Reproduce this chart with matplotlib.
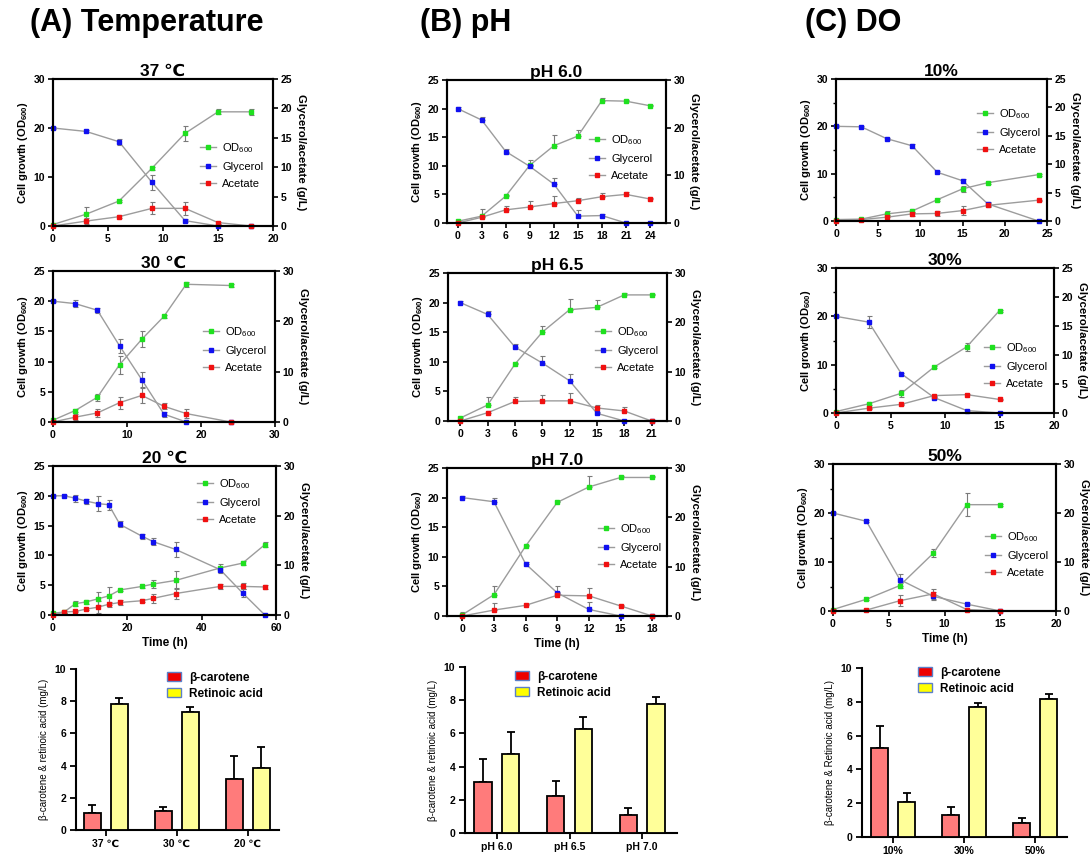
import numpy as np
import matplotlib
matplotlib.use("Agg")
import matplotlib.pyplot as plt
from matplotlib.lines import Line2D
from matplotlib.patches import Patch

plt.rcParams['font.family'] = ['Liberation Sans', 'DejaVu Sans']
plt.rcParams['font.weight'] = 'bold'
plt.rcParams['axes.labelweight'] = 'bold'
plt.rcParams['mathtext.default'] = 'regular'

# ---------------- data: (A) temperature ----------------
t_37 = [0, 3, 6, 9, 12, 15, 18]
od_37 = [0.3, 2.4, 5.1, 11.8, 18.9, 23.3, 23.3]
od_37_err = [0.3, 1.4, 0.3, 0.3, 1.6, 0.5, 0.6]
gly_37 = [20.0, 19.3, 17.2, 8.9, 1.1, 0, 0]
gly_37_err = [0.2, 0.2, 0.6, 1.5, 0.3, 0, 0]
ace_37 = [0, 1.0, 1.9, 3.6, 3.6, 0.7, 0]
ace_37_err = [0, 0.6, 0.3, 1.2, 1.3, 0.2, 0]

t_30 = [0, 3, 6, 9, 12, 15, 18, 24]
od_30 = [0.3, 1.9, 4.1, 9.5, 13.7, 17.5, 22.8, 22.6]
od_30_err = [0.1, 0.3, 0.6, 1.5, 1.3, 0.2, 0.4, 0.2]
gly_30 = [20.0, 19.6, 18.5, 12.6, 7.0, 1.3, 0, 0]
gly_30_err = [0.2, 0.6, 0.4, 1.2, 1.2, 0.4, 0, 0]
ace_30 = [0, 0.8, 1.5, 3.2, 4.4, 2.6, 1.4, 0]
ace_30_err = [0, 0.5, 0.7, 1.0, 1.3, 0.5, 0.7, 0]

t_20 = [0, 3, 6, 9, 12, 15, 18, 24, 27, 33, 45, 51, 57]
od_20 = [0.3, 0.5, 1.9, 2.2, 2.7, 3.2, 4.2, 4.8, 5.2, 5.8, 7.9, 8.7, 11.8]
od_20_err = [0.1, 0.1, 0.4, 0.3, 1.1, 1.5, 0.2, 0.2, 0.7, 1.5, 0.7, 0.3, 0.4]
gly_20 = [20.0, 20.0, 19.6, 19.1, 18.7, 18.5, 15.2, 13.2, 12.3, 11.0, 7.6, 3.7, 0]
gly_20_err = [0.1, 0.1, 0.6, 0.4, 1.3, 0.8, 0.5, 0.4, 0.6, 1.2, 0.5, 0.6, 0]
ace_20 = [0, 0.5, 0.6, 1.0, 1.3, 1.8, 2.1, 2.4, 2.8, 3.6, 4.8, 4.8, 4.7]
ace_20_err = [0, 0.1, 0.1, 0.2, 1.0, 0.4, 0.4, 0.3, 0.8, 0.9, 0.4, 0.5, 0.3]

# ---------------- data: (B) pH ----------------
t_ph60 = [0, 3, 6, 9, 12, 15, 18, 21, 24]
od_ph60 = [0.3, 1.2, 4.7, 10.1, 13.5, 15.2, 21.4, 21.3, 20.5]
od_ph60_err = [0.3, 1.3, 0.2, 1.0, 1.8, 1.1, 0.4, 0.2, 0.2]
gly_ph60 = [20.0, 18.0, 12.5, 9.9, 6.8, 1.2, 1.3, 0, 0]
gly_ph60_err = [0.2, 0.6, 0.4, 0.3, 1.1, 1.0, 0.2, 0, 0]
ace_ph60 = [0, 1.0, 2.3, 2.8, 3.4, 3.9, 4.6, 5.0, 4.2]
ace_ph60_err = [0, 0.3, 0.7, 1.0, 1.4, 0.5, 0.6, 0.5, 0.2]

t_ph65 = [0, 3, 6, 9, 12, 15, 18, 21]
od_ph65 = [0.5, 2.7, 9.6, 15.0, 18.8, 19.2, 21.3, 21.3]
od_ph65_err = [0.2, 1.3, 0.2, 1.1, 1.8, 1.2, 0.4, 0.2]
gly_ph65 = [20.0, 18.0, 12.5, 9.8, 6.8, 1.3, 0, 0]
gly_ph65_err = [0.2, 0.5, 0.5, 1.2, 1.2, 0.3, 0, 0]
ace_ph65 = [0, 1.4, 3.3, 3.4, 3.4, 2.2, 1.7, 0]
ace_ph65_err = [0, 0.3, 0.8, 1.0, 1.4, 0.5, 0.6, 0]

t_ph70 = [0, 3, 6, 9, 12, 15, 18]
od_ph70 = [0.2, 3.6, 11.8, 19.2, 21.8, 23.4, 23.4]
od_ph70_err = [0.5, 1.4, 0.2, 0.2, 1.8, 0.2, 0.3]
gly_ph70 = [20.0, 19.3, 8.8, 3.9, 1.1, 0, 0]
gly_ph70_err = [0.2, 0.7, 0.3, 1.1, 1.2, 0, 0]
ace_ph70 = [0, 1.0, 1.8, 3.5, 3.4, 1.7, 0]
ace_ph70_err = [0, 1.2, 0.2, 0.5, 1.3, 0.2, 0]

# ---------------- data: (C) DO ----------------
t_do10 = [0, 3, 6, 9, 12, 15, 18, 24]
od_do10 = [0.3, 0.4, 1.5, 2.1, 4.5, 6.8, 8.1, 9.8]
od_do10_err = [0.1, 0.1, 0.6, 0.5, 0.2, 0.6, 0.2, 0.2]
gly_do10 = [20.0, 19.9, 17.4, 15.9, 10.3, 8.5, 3.6, 0]
gly_do10_err = [0.2, 0.2, 0.2, 0.4, 0.2, 0.4, 0.5, 0]
ace_do10 = [0, 0.3, 0.8, 1.5, 1.6, 2.2, 3.3, 4.4]
ace_do10_err = [0, 0.1, 0.5, 0.5, 0.5, 1.0, 0.4, 0.1]

t_do30 = [0, 3, 6, 9, 12, 15]
od_do30 = [0.3, 1.9, 4.1, 9.5, 13.7, 21.2]
od_do30_err = [0.1, 0.3, 0.7, 0.2, 0.8, 0.2]
gly_do30 = [20.0, 18.8, 8.1, 3.2, 0.5, 0]
gly_do30_err = [0.2, 1.2, 0.2, 0.3, 0.1, 0]
ace_do30 = [0, 1.0, 1.8, 3.6, 3.8, 2.8]
ace_do30_err = [0, 0.1, 0.1, 0.2, 0.1, 0.1]

t_do50 = [0, 3, 6, 9, 12, 15]
od_do50 = [0.3, 2.4, 5.2, 11.8, 21.7, 21.7]
od_do50_err = [0.1, 0.2, 0.5, 0.8, 2.3, 0.2]
gly_do50 = [20.0, 18.3, 6.4, 3.0, 1.4, 0]
gly_do50_err = [0.2, 0.2, 1.2, 0.8, 0.2, 0]
ace_do50 = [0, 0.2, 2.1, 3.5, 0.3, 0]
ace_do50_err = [0, 0.1, 1.1, 1.0, 0.1, 0]

# ---------------- data: bar charts ----------------
temp_cats = ['37 \u2103', '30 \u2103', '20 \u2103']
temp_bc = [1.05, 1.2, 3.15]
temp_bc_err = [0.5, 0.25, 1.45]
temp_ra = [7.8, 7.3, 3.85]
temp_ra_err = [0.38, 0.32, 1.3]

ph_cats = ['pH 6.0', 'pH 6.5', 'pH 7.0']
ph_bc = [3.05, 2.2, 1.08]
ph_bc_err = [1.42, 0.95, 0.42]
ph_ra = [4.78, 6.28, 7.8]
ph_ra_err = [1.33, 0.72, 0.38]

do_cats = ['10%', '30%', '50%']
do_bc = [5.25, 1.3, 0.83]
do_bc_err = [1.3, 0.5, 0.27]
do_ra = [2.05, 7.67, 8.15]
do_ra_err = [0.55, 0.23, 0.32]

# ---------------- layout helpers ----------------
W, H = 1090, 857
fig = plt.figure(figsize=(W / 100, H / 100), dpi=100)


def rect(x0, y0, x1, y1):
    return [x0 / W, 1 - y1 / H, (x1 - x0) / W, (y1 - y0) / H]


LINE_C = '#9c9c9c'
ERR_C = '#7a7a7a'
COLS = {'od': '#1fe01f', 'gly': '#1010f0', 'ace': '#f01010'}


def style_axis(ax):
    for s in ax.spines.values():
        s.set_linewidth(1.5)
    ax.tick_params(direction='out', length=3.5, width=1.2, labelsize=7.5, pad=2)


def line_panel(r, title, t, series, ylim_l, yt_l, ylim_r, yt_r, xlim, xt,
               leg, xlabel=False, up_only=False, minor_l=None):
    ax = fig.add_axes(rect(*r))
    for (y, e, key) in series:
        e = np.asarray(e, float)
        yerr = [np.zeros_like(e), e] if up_only else e
        c = COLS[key]
        cont = ax.errorbar(t, y, yerr=yerr, color=LINE_C, lw=1.0, marker='s', ms=3.4,
                           mfc=c, mec=c, ecolor=ERR_C, elinewidth=0.8,
                           capsize=1.8, capthick=0.8)
        for a in cont.get_children():
            a.set_clip_on(False)
    ax.set_xlim(xlim)
    ax.set_xticks(xt)
    ax.set_ylim(ylim_l)
    ax.set_yticks(yt_l)
    if minor_l is not None:
        ax.set_yticks(minor_l, minor=True)
        ax.tick_params(which='minor', direction='out', length=2.5, width=1.0)
    style_axis(ax)
    ax.set_ylabel('Cell growth (OD$_{600}$)', fontsize=8, labelpad=3)
    ax.set_title(title, fontsize=12.5, fontweight='bold', pad=2,
                 family=['Liberation Sans', 'DejaVu Sans'])
    if xlabel:
        ax.set_xlabel('Time (h)', fontsize=8.5, labelpad=3)
    ax2 = ax.twinx()
    ax2.set_ylim(ylim_r)
    ax2.set_yticks(yt_r)
    style_axis(ax2)
    ax2.set_ylabel('Glycerol/acetate (g/L)', rotation=270, fontsize=8.2, labelpad=10)
    handles = [Line2D([], [], color=LINE_C, lw=1.0, marker='s', ms=3.4,
                      mfc=COLS[k], mec=COLS[k]) for k in ('od', 'gly', 'ace')]
    labels = ['OD$_{600}$', 'Glycerol', 'Acetate']
    ax2.legend(handles, labels, loc='center left',
               bbox_to_anchor=(leg[0] / W, 1 - leg[1] / H),
               bbox_transform=fig.transFigure, frameon=False,
               prop={'size': 8, 'weight': 'normal'}, handlelength=1.4,
               handletextpad=0.6, labelspacing=0.65, borderpad=0, borderaxespad=0)
    return ax


BC_C = '#ff7b7b'
RA_C = '#ffff99'


def bar_panel(r, cats, bc, bce, ra, rae, xlim, ylabel, leg):
    ax = fig.add_axes(rect(*r))
    x = np.arange(len(cats))
    off, w = 0.19, 0.24
    ax.bar(x - off, bc, w, color=BC_C, edgecolor='black', lw=1.3, zorder=3)
    ax.bar(x + off, ra, w, color=RA_C, edgecolor='black', lw=1.3, zorder=3)
    ax.errorbar(x - off, bc, yerr=[np.zeros(len(bc)), bce], fmt='none', ecolor='black',
                elinewidth=1.3, capsize=3, capthick=1.3, zorder=2)
    ax.errorbar(x + off, ra, yerr=[np.zeros(len(ra)), rae], fmt='none', ecolor='black',
                elinewidth=1.3, capsize=3, capthick=1.3, zorder=2)
    ax.set_xlim(xlim)
    ax.set_ylim(0, 10)
    ax.set_yticks([0, 2, 4, 6, 8, 10])
    ax.set_xticks(x)
    ax.set_xticklabels(cats)
    ax.spines['top'].set_visible(False)
    ax.spines['right'].set_visible(False)
    for s in ('left', 'bottom'):
        ax.spines[s].set_linewidth(1.5)
    ax.tick_params(direction='out', length=4, width=1.3, labelsize=7.5, pad=3)
    ax.tick_params(axis='x', pad=2.5)
    ax.set_ylabel(ylabel, fontsize=7, fontweight='normal', labelpad=4)
    handles = [Patch(facecolor='#ee0000', edgecolor='#5b7fc8', lw=1.0),
               Patch(facecolor='#ffff00', edgecolor='#5b7fc8', lw=1.0)]
    ax.legend(handles, ['\u03b2-carotene', 'Retinoic acid'], loc='upper left',
              bbox_to_anchor=(leg[0] / W, 1 - leg[1] / H),
              bbox_transform=fig.transFigure, frameon=False,
              prop={'size': 8.5, 'weight': 'bold'}, handlelength=1.15, handleheight=0.8,
              handletextpad=0.7, labelspacing=0.3, borderpad=0, borderaxespad=0)
    return ax


# ---------------- column A ----------------
line_panel((53, 79, 273, 226), '37 \u2103', t_37,
           [(od_37, od_37_err, 'od'), (gly_37, gly_37_err, 'gly'), (ace_37, ace_37_err, 'ace')],
           (0, 30), [0, 10, 20, 30], (0, 25), [0, 5, 10, 15, 20, 25],
           (0, 20), [0, 5, 10, 15, 20], (200, 165))
line_panel((53, 271, 275, 422), '30 \u2103', t_30,
           [(od_30, od_30_err, 'od'), (gly_30, gly_30_err, 'gly'), (ace_30, ace_30_err, 'ace')],
           (0, 25), [0, 5, 10, 15, 20, 25], (0, 30), [0, 10, 20, 30],
           (0, 30), [0, 10, 20, 30], (203, 349))
line_panel((53, 466, 276, 615), '20 \u2103', t_20,
           [(od_20, od_20_err, 'od'), (gly_20, gly_20_err, 'gly'), (ace_20, ace_20_err, 'ace')],
           (0, 25), [0, 5, 10, 15, 20, 25], (0, 30), [0, 10, 20, 30],
           (0, 60), [0, 20, 40, 60], (197, 501), xlabel=True)

# ---------------- column B ----------------
line_panel((447, 80, 666, 223), 'pH 6.0', t_ph60,
           [(od_ph60, od_ph60_err, 'od'), (gly_ph60, gly_ph60_err, 'gly'), (ace_ph60, ace_ph60_err, 'ace')],
           (0, 25), [0, 5, 10, 15, 20, 25], (0, 30), [0, 10, 20, 30],
           (-1.33, 26.0), [0, 3, 6, 9, 12, 15, 18, 21, 24], (589, 157), up_only=True)
line_panel((448, 273, 667, 421), 'pH 6.5', t_ph65,
           [(od_ph65, od_ph65_err, 'od'), (gly_ph65, gly_ph65_err, 'gly'), (ace_ph65, ace_ph65_err, 'ace')],
           (0, 25), [0, 5, 10, 15, 20, 25], (0, 30), [0, 10, 20, 30],
           (-1.35, 22.7), [0, 3, 6, 9, 12, 15, 18, 21], (595, 349), up_only=True)
line_panel((447, 468, 667, 616), 'pH 7.0', t_ph70,
           [(od_ph70, od_ph70_err, 'od'), (gly_ph70, gly_ph70_err, 'gly'), (ace_ph70, ace_ph70_err, 'ace')],
           (0, 25), [0, 5, 10, 15, 20, 25], (0, 30), [0, 10, 20, 30],
           (-1.45, 19.4), [0, 3, 6, 9, 12, 15, 18], (598, 546), xlabel=True, up_only=True)

# ---------------- column C ----------------
line_panel((836, 79, 1047, 221), '10%', t_do10,
           [(od_do10, od_do10_err, 'od'), (gly_do10, gly_do10_err, 'gly'), (ace_do10, ace_do10_err, 'ace')],
           (0, 30), [0, 10, 20, 30], (0, 25), [0, 5, 10, 15, 20, 25],
           (0, 25), [0, 5, 10, 15, 20, 25], (977, 131), minor_l=[5, 15, 25])
line_panel((836, 268, 1054, 413), '30%', t_do30,
           [(od_do30, od_do30_err, 'od'), (gly_do30, gly_do30_err, 'gly'), (ace_do30, ace_do30_err, 'ace')],
           (0, 30), [0, 10, 20, 30], (0, 25), [0, 5, 10, 15, 20, 25],
           (0, 20), [0, 5, 10, 15, 20], (984, 365), minor_l=[5, 15, 25])
line_panel((833, 464, 1056, 611), '50%', t_do50,
           [(od_do50, od_do50_err, 'od'), (gly_do50, gly_do50_err, 'gly'), (ace_do50, ace_do50_err, 'ace')],
           (0, 30), [0, 10, 20, 30], (0, 30), [0, 10, 20, 30],
           (0, 20), [0, 5, 10, 15, 20], (985, 554), xlabel=True, minor_l=[5, 15, 25])

# ---------------- bar charts ----------------
bar_panel((76, 669, 279, 830), temp_cats, temp_bc, temp_bc_err, temp_ra, temp_ra_err,
          (-0.42, 2.44), '\u03b2-carotene & retinoic acid (mg/L)', (167, 672))
bar_panel((465, 667, 677, 833), ph_cats, ph_bc, ph_bc_err, ph_ra, ph_ra_err,
          (-0.44, 2.48), '\u03b2-carotene & retinoic acid (mg/L)', (515, 671))
bar_panel((862, 668, 1067, 837), do_cats, do_bc, do_bc_err, do_ra, do_ra_err,
          (-0.44, 2.45), '\u03b2-carotene & Retinoic acid (mg/L)', (918, 667))

# ---------------- column headers ----------------
fig.text(30 / W, 1 - 23 / H, '(A) Temperature', fontsize=22, fontweight='bold', va='center')
fig.text(420 / W, 1 - 23 / H, '(B) pH', fontsize=22, fontweight='bold', va='center')
fig.text(805 / W, 1 - 23 / H, '(C) DO', fontsize=22, fontweight='bold', va='center')

fig.savefig('out.png', dpi=100, facecolor='white')
